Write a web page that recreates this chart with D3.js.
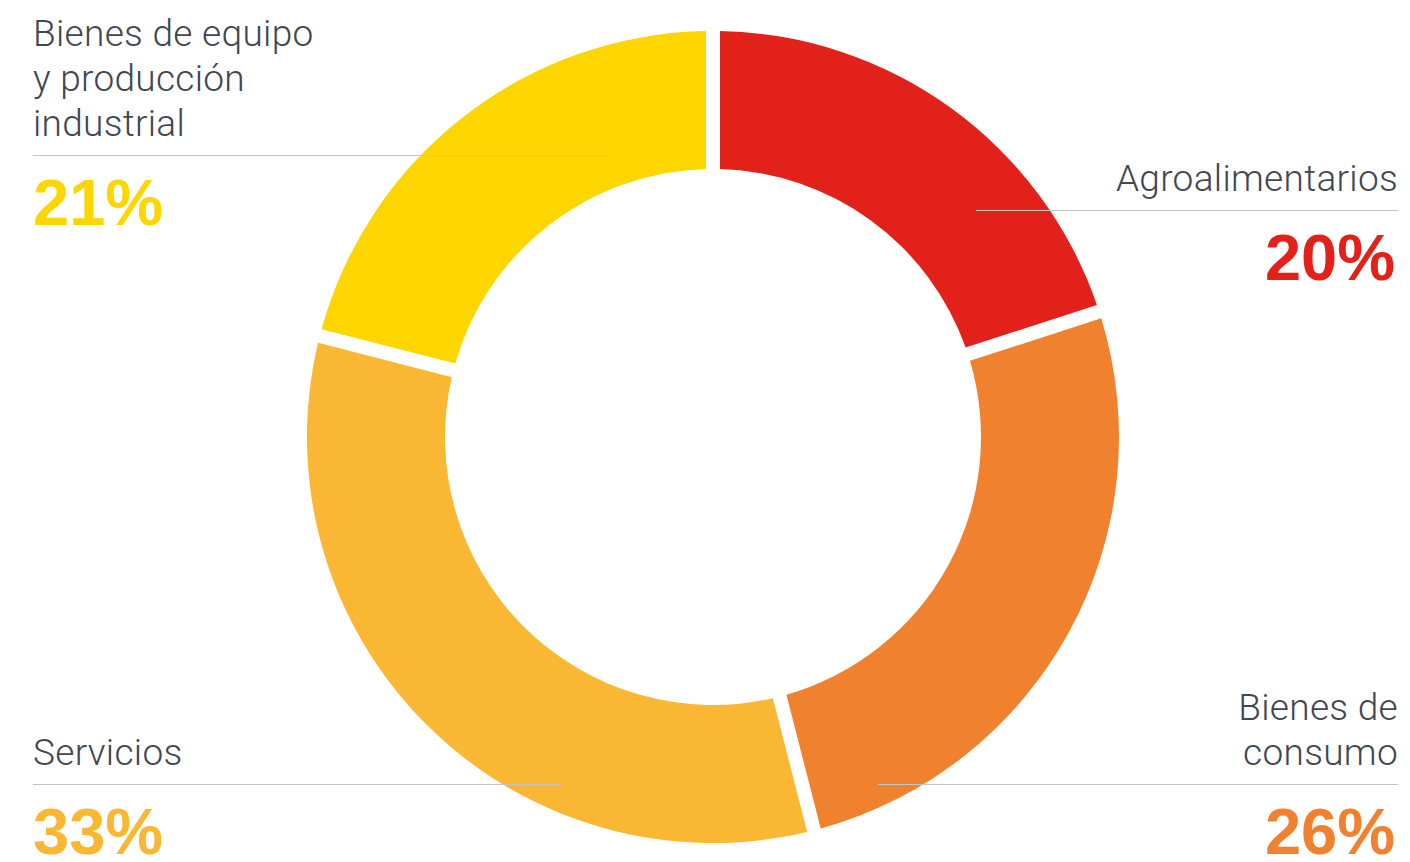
<!DOCTYPE html>
<html>
<head>
<meta charset="utf-8">
<script src="https://cdn.jsdelivr.net/npm/d3@7"></script>
<style>
  body { margin: 0; background: #fff; }
  svg { display: block; }
</style>
</head>
<body>
<div class="container"></div>
<script>
// datos del grafico
var categories = ['Agroalimentarios', 'Bienes de consumo', 'Servicios', 'Bienes de equipo y producción industrial'];
var values = [20, 26, 33, 21];
var colors = ['#E3211B', '#F0812F', '#F9B733', '#FDD600'];
// lineas de cada etiqueta (texto partido como en el original)
var labelLines = [
	['Agroalimentarios'],
	['Bienes de', 'consumo'],
	['Servicios'],
	['Bienes de equipo', 'y producción', 'industrial']
];

var width = 1410, height = 862;
var cx = 713, cy = 437;
var outer = 406, inner = 268;

var svg = d3.select('.container').append('svg')
	.attr('width', width)
	.attr('height', height);

var pie = d3.pie()
	.sort(null)
	.value(function(d) { return d; });

var arc = d3.arc()
	.innerRadius(inner)
	.outerRadius(outer)
	.padRadius(outer)
	.padAngle(14 / outer);

var donut = svg.append('g')
	.attr('transform', 'translate(' + cx + ',' + cy + ')');

donut.selectAll('path')
	.data(pie(values))
	.enter()
	.append('path')
	.attr('d', arc)
	.attr('fill', function(d, i) { return colors[i]; });

// etiquetas: posicion de cada bloque (linea separadora y alineacion)
var blocks = [
	{ anchor: 'end', x: 1398, lineX0: 976, lineX1: 1398, lineY: 210 },
	{ anchor: 'end', x: 1398, lineX0: 878, lineX1: 1398, lineY: 784 },
	{ anchor: 'start', x: 33, lineX0: 33, lineX1: 562, lineY: 784 },
	{ anchor: 'start', x: 33, lineX0: 33, lineX1: 608, lineY: 155 }
];

var labels = svg.append('g');

blocks.forEach(function(b, i) {
	var g = labels.append('g');
	var lines = labelLines[i];

	g.append('line')
		.attr('x1', b.lineX0)
		.attr('x2', b.lineX1)
		.attr('y1', b.lineY + 0.5)
		.attr('y2', b.lineY + 0.5)
		.attr('stroke', '#c4c4c4')
		.attr('stroke-width', 1.2);

	// texto encima de la linea
	lines.forEach(function(t, j) {
		g.append('text')
			.attr('x', b.x)
			.attr('y', b.lineY - 19 - (lines.length - 1 - j) * 45)
			.attr('text-anchor', b.anchor)
			.attr('font-family', 'Roboto, "Liberation Sans", sans-serif')
			.attr('font-weight', 300)
			.attr('font-size', 37)
			.attr('letter-spacing', 0.3)
			.attr('fill', '#41464f')
			.text(t);
	});

	g.append('text')
		.attr('x', b.anchor === 'end' ? b.x - 3 : b.x)
		.attr('y', b.lineY + 70)
		.attr('text-anchor', b.anchor)
		.attr('font-family', '"Liberation Sans", Arial, sans-serif')
		.attr('font-weight', 700)
		.attr('font-size', 65)
		.attr('fill', colors[i])
		.text(values[i] + '%');
});
</script>
</body>
</html>
